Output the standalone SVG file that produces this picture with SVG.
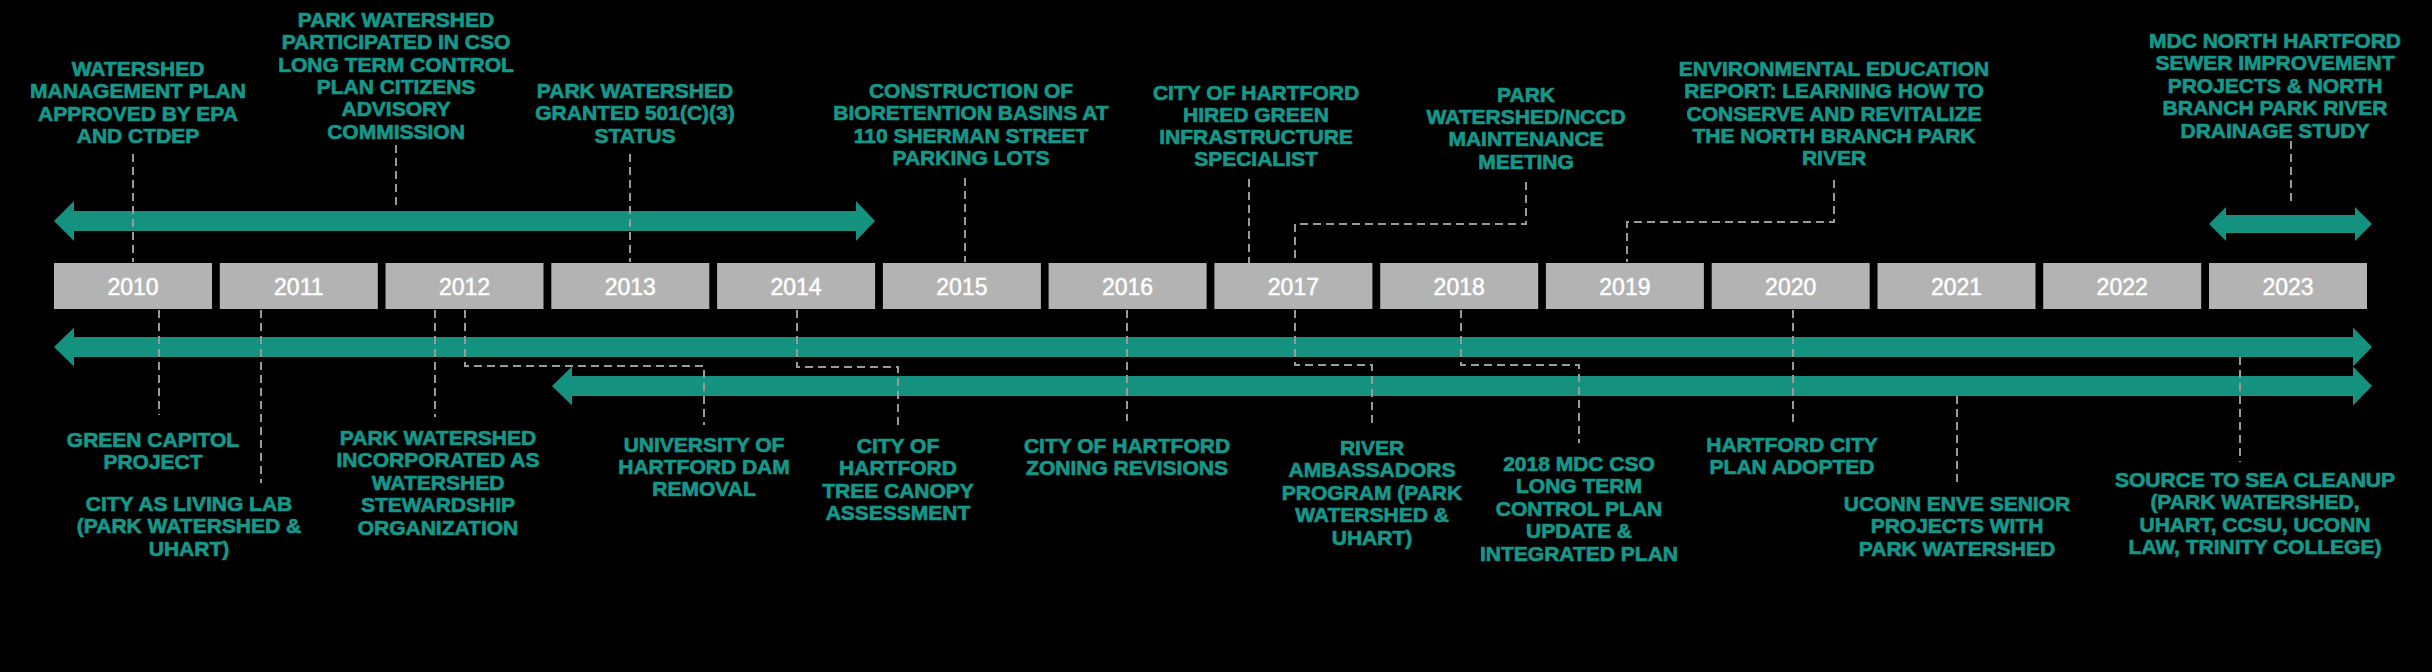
<svg xmlns="http://www.w3.org/2000/svg" width="2432" height="672" viewBox="0 0 2432 672">
<style>
.lbl{font-family:"Liberation Sans",Arial,sans-serif;font-weight:bold;font-size:21px;fill:#15978a;stroke:#15978a;stroke-width:0.7;text-anchor:middle}
.yr{font-family:"Liberation Sans",Arial,sans-serif;font-size:23px;fill:#ffffff;stroke:#ffffff;stroke-width:0.5;text-anchor:middle}
.box{fill:#b3b3b3}
.arr{fill:#14927f}
.dash{fill:none;stroke:#9a9a9a;stroke-width:2;stroke-dasharray:8 5}
</style>
<rect x="0" y="0" width="2432" height="672" fill="#000000"/>
<g id="years">
<g id="y2010"><rect class="box" x="54" y="263" width="158" height="46"/><text class="yr" x="133" y="294.5">2010</text></g>
<g id="y2011"><rect class="box" x="219.8" y="263" width="158" height="46"/><text class="yr" x="298.8" y="294.5">2011</text></g>
<g id="y2012"><rect class="box" x="385.5" y="263" width="158" height="46"/><text class="yr" x="464.5" y="294.5">2012</text></g>
<g id="y2013"><rect class="box" x="551.3" y="263" width="158" height="46"/><text class="yr" x="630.3" y="294.5">2013</text></g>
<g id="y2014"><rect class="box" x="717.1" y="263" width="158" height="46"/><text class="yr" x="796.1" y="294.5">2014</text></g>
<g id="y2015"><rect class="box" x="882.9" y="263" width="158" height="46"/><text class="yr" x="961.9" y="294.5">2015</text></g>
<g id="y2016"><rect class="box" x="1048.6" y="263" width="158" height="46"/><text class="yr" x="1127.6" y="294.5">2016</text></g>
<g id="y2017"><rect class="box" x="1214.4" y="263" width="158" height="46"/><text class="yr" x="1293.4" y="294.5">2017</text></g>
<g id="y2018"><rect class="box" x="1380.2" y="263" width="158" height="46"/><text class="yr" x="1459.2" y="294.5">2018</text></g>
<g id="y2019"><rect class="box" x="1545.9" y="263" width="158" height="46"/><text class="yr" x="1624.9" y="294.5">2019</text></g>
<g id="y2020"><rect class="box" x="1711.7" y="263" width="158" height="46"/><text class="yr" x="1790.7" y="294.5">2020</text></g>
<g id="y2021"><rect class="box" x="1877.5" y="263" width="158" height="46"/><text class="yr" x="1956.5" y="294.5">2021</text></g>
<g id="y2022"><rect class="box" x="2043.2" y="263" width="158" height="46"/><text class="yr" x="2122.2" y="294.5">2022</text></g>
<g id="y2023"><rect class="box" x="2209" y="263" width="158" height="46"/><text class="yr" x="2288" y="294.5">2023</text></g>
</g>
<g id="spans">
<polygon class="arr" points="54,221 74,201 74,211 856,211 856,201 875,221 856,241 856,231 74,231 74,241"/>
<polygon class="arr" points="2209,224 2226,207 2226,215 2355,215 2355,207 2372,224 2355,241 2355,233 2226,233 2226,241"/>
<polygon class="arr" points="54,347 74,327.5 74,337 2353,337 2353,327.5 2372,347 2353,366.5 2353,357 74,357 74,366.5"/>
<polygon class="arr" points="552,386 572,366.5 572,376 2353,376 2353,366.5 2372,386 2353,405.5 2353,396 572,396 572,405.5"/>
</g>
<g id="connectors">
<path class="dash" d="M133,154 V262"/>
<path class="dash" d="M396,145 V210"/>
<path class="dash" d="M630,154 V262"/>
<path class="dash" d="M965,178 V262"/>
<path class="dash" d="M1249,179 V263"/>
<path class="dash" d="M1526,182 V224 H1295 V263"/>
<path class="dash" d="M1834,180 V222 H1627 V262"/>
<path class="dash" d="M2291,141 V205"/>
<path class="dash" d="M159,310 V415"/>
<path class="dash" d="M261,310 V483"/>
<path class="dash" d="M435,310 V417"/>
<path class="dash" d="M465,310 V366 H704 V425"/>
<path class="dash" d="M797,310 V367 H898 V425"/>
<path class="dash" d="M1127,310 V421"/>
<path class="dash" d="M1295,310 V365 H1372 V427"/>
<path class="dash" d="M1461,310 V365 H1579 V443"/>
<path class="dash" d="M1793,310 V424"/>
<path class="dash" d="M1957,396 V483"/>
<path class="dash" d="M2240,357 V462"/>
</g>
<g id="e2010-plan"><text class="lbl"><tspan x="138" y="75.5">WATERSHED</tspan><tspan x="138" y="98">MANAGEMENT PLAN</tspan><tspan x="138" y="120.5">APPROVED BY EPA</tspan><tspan x="138" y="143">AND CTDEP</tspan></text></g>
<g id="e2012-cso"><text class="lbl"><tspan x="396" y="27">PARK WATERSHED</tspan><tspan x="396" y="49.3">PARTICIPATED IN CSO</tspan><tspan x="396" y="71.6">LONG TERM CONTROL</tspan><tspan x="396" y="94">PLAN CITIZENS</tspan><tspan x="396" y="116.3">ADVISORY</tspan><tspan x="396" y="138.6">COMMISSION</tspan></text></g>
<g id="e2013-501c3"><text class="lbl"><tspan x="635" y="97.5">PARK WATERSHED</tspan><tspan x="635" y="120">GRANTED 501(C)(3)</tspan><tspan x="635" y="142.5">STATUS</tspan></text></g>
<g id="e2015-bioretention"><text class="lbl"><tspan x="971" y="97.5">CONSTRUCTION OF</tspan><tspan x="971" y="120">BIORETENTION BASINS AT</tspan><tspan x="971" y="142.5">110 SHERMAN STREET</tspan><tspan x="971" y="165">PARKING LOTS</tspan></text></g>
<g id="e2017-specialist"><text class="lbl"><tspan x="1256" y="99.5">CITY OF HARTFORD</tspan><tspan x="1256" y="121.5">HIRED GREEN</tspan><tspan x="1256" y="144">INFRASTRUCTURE</tspan><tspan x="1256" y="166">SPECIALIST</tspan></text></g>
<g id="e2017-nccd"><text class="lbl"><tspan x="1526" y="101.5">PARK</tspan><tspan x="1526" y="124">WATERSHED/NCCD</tspan><tspan x="1526" y="146">MAINTENANCE</tspan><tspan x="1526" y="168.5">MEETING</tspan></text></g>
<g id="e2019-report"><text class="lbl"><tspan x="1834" y="75.5">ENVIRONMENTAL EDUCATION</tspan><tspan x="1834" y="98">REPORT: LEARNING HOW TO</tspan><tspan x="1834" y="120.5">CONSERVE AND REVITALIZE</tspan><tspan x="1834" y="143">THE NORTH BRANCH PARK</tspan><tspan x="1834" y="165">RIVER</tspan></text></g>
<g id="e2023-mdc"><text class="lbl"><tspan x="2275" y="47.5">MDC NORTH HARTFORD</tspan><tspan x="2275" y="70">SEWER IMPROVEMENT</tspan><tspan x="2275" y="92.5">PROJECTS &amp; NORTH</tspan><tspan x="2275" y="115">BRANCH PARK RIVER</tspan><tspan x="2275" y="137.5">DRAINAGE STUDY</tspan></text></g>
<g id="e2010-capitol"><text class="lbl"><tspan x="153" y="446.5">GREEN CAPITOL</tspan><tspan x="153" y="469">PROJECT</tspan></text></g>
<g id="e2011-lab"><text class="lbl"><tspan x="189" y="510.5">CITY AS LIVING LAB</tspan><tspan x="189" y="533">(PARK WATERSHED &amp;</tspan><tspan x="189" y="555.5">UHART)</tspan></text></g>
<g id="e2012-incorporated"><text class="lbl"><tspan x="438" y="444.5">PARK WATERSHED</tspan><tspan x="438" y="467">INCORPORATED AS</tspan><tspan x="438" y="489.5">WATERSHED</tspan><tspan x="438" y="512">STEWARDSHIP</tspan><tspan x="438" y="534.5">ORGANIZATION</tspan></text></g>
<g id="e2012-dam"><text class="lbl"><tspan x="704" y="451.5">UNIVERSITY OF</tspan><tspan x="704" y="474">HARTFORD DAM</tspan><tspan x="704" y="496">REMOVAL</tspan></text></g>
<g id="e2014-canopy"><text class="lbl"><tspan x="898" y="452.5">CITY OF</tspan><tspan x="898" y="475">HARTFORD</tspan><tspan x="898" y="497.5">TREE CANOPY</tspan><tspan x="898" y="520">ASSESSMENT</tspan></text></g>
<g id="e2016-zoning"><text class="lbl"><tspan x="1127" y="452.5">CITY OF HARTFORD</tspan><tspan x="1127" y="475">ZONING REVISIONS</tspan></text></g>
<g id="e2017-ambassadors"><text class="lbl"><tspan x="1372" y="454.5">RIVER</tspan><tspan x="1372" y="477">AMBASSADORS</tspan><tspan x="1372" y="499.5">PROGRAM (PARK</tspan><tspan x="1372" y="522">WATERSHED &amp;</tspan><tspan x="1372" y="544.5">UHART)</tspan></text></g>
<g id="e2018-ltcp"><text class="lbl"><tspan x="1579" y="470.5">2018 MDC CSO</tspan><tspan x="1579" y="493">LONG TERM</tspan><tspan x="1579" y="515.5">CONTROL PLAN</tspan><tspan x="1579" y="538">UPDATE &amp;</tspan><tspan x="1579" y="560.5">INTEGRATED PLAN</tspan></text></g>
<g id="e2020-cityplan"><text class="lbl"><tspan x="1792" y="451.5">HARTFORD CITY</tspan><tspan x="1792" y="474">PLAN ADOPTED</tspan></text></g>
<g id="e2021-uconn"><text class="lbl"><tspan x="1957" y="510.5">UCONN ENVE SENIOR</tspan><tspan x="1957" y="533">PROJECTS WITH</tspan><tspan x="1957" y="555.5">PARK WATERSHED</tspan></text></g>
<g id="e2023-cleanup"><text class="lbl"><tspan x="2255" y="486.5">SOURCE TO SEA CLEANUP</tspan><tspan x="2255" y="509">(PARK WATERSHED,</tspan><tspan x="2255" y="531.5">UHART, CCSU, UCONN</tspan><tspan x="2255" y="554">LAW, TRINITY COLLEGE)</tspan></text></g>
</svg>
